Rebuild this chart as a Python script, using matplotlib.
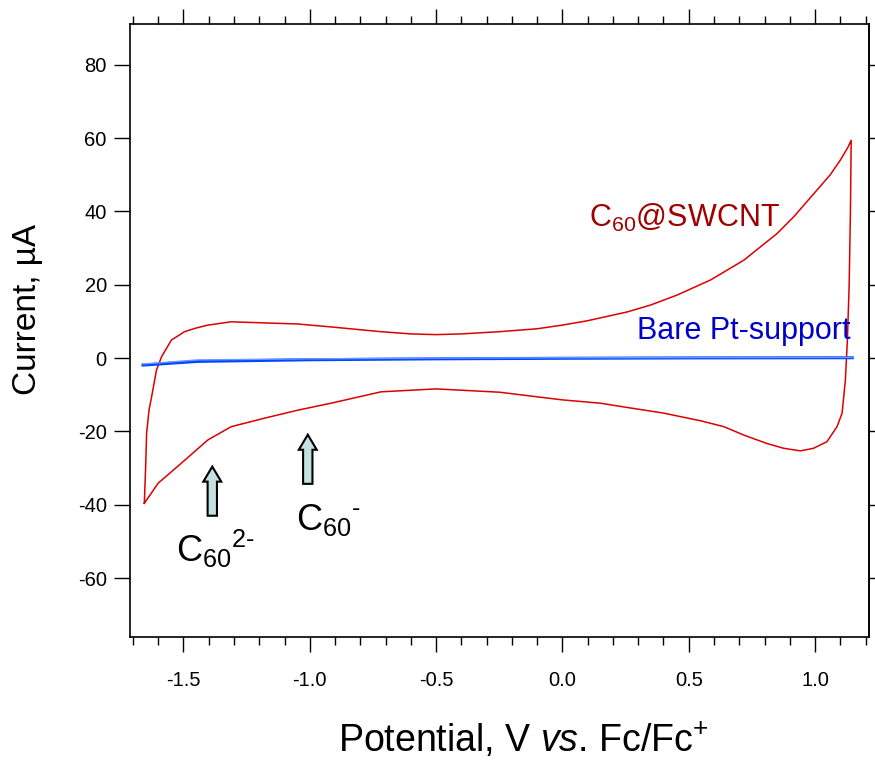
import matplotlib
matplotlib.use("Agg")
import matplotlib.pyplot as plt
from matplotlib.patches import FancyArrow
from matplotlib.ticker import MultipleLocator

plt.rcParams['font.family'] = ['Liberation Sans', 'DejaVu Sans']
plt.rcParams['mathtext.fontset'] = 'custom'
plt.rcParams['mathtext.rm'] = 'Liberation Sans'
plt.rcParams['mathtext.it'] = 'Liberation Sans:italic'

# C60@SWCNT cyclic voltammogram (V vs Fc/Fc+, uA), one closed loop
cv_v = [-1.655, -1.650, -1.646, -1.636, -1.626, -1.607, -1.587, -1.548, -1.496,
        -1.45, -1.403, -1.311, -1.18, -1.047, -0.916, -0.718, -0.6, -0.5, -0.4,
        -0.25, -0.1, 0.0, 0.1, 0.257, 0.35, 0.454, 0.586, 0.718, 0.85, 0.915,
        1.007, 1.06, 1.10, 1.13, 1.143,
        1.14, 1.135, 1.128, 1.12, 1.107, 1.087, 1.047, 0.994, 0.942, 0.876, 0.81,
        0.718, 0.639, 0.547, 0.4, 0.25, 0.15, 0.0, -0.25, -0.5, -0.718, -0.916,
        -1.047, -1.18, -1.311, -1.403, -1.509, -1.6, -1.655]
cv_i = [-39.6, -30, -20.5, -14, -10.5, -3.3, 0.35, 4.9, 7.2,
        8.2, 9.0, 9.9, 9.6, 9.3, 8.5, 7.2, 6.6, 6.4, 6.6,
        7.2, 8.0, 9.0, 10.2, 12.6, 14.5, 17.2, 21.3, 26.7, 34, 38.5,
        45.8, 50, 54, 57.5, 59.4,
        40, 20, 5, -6, -15, -18.7, -22.8, -24.6, -25.3, -24.6, -23.3,
        -21, -18.7, -17.1, -15, -13.4, -12.3, -11.4, -9.3, -8.4, -9.2, -12.3,
        -14.2, -16.4, -18.7, -22.3, -28.7, -34.1, -39.6]

# bare Pt support, forward and reverse scan
pt_v_fwd = [-1.66, -1.443, -1.0, -0.5, 0.0, 0.5, 1.147]
pt_i_fwd = [-1.9, -0.9, -0.45, -0.2, -0.05, 0.05, 0.1]
pt_v_rev = [1.147, 0.5, 0.0, -0.5, -1.0, -1.443, -1.66]
pt_i_rev = [0.2, 0.15, 0.1, 0.0, -0.2, -0.5, -1.6]

# reduction arrows: x, bottom, top
arrow_x = [-1.386, -1.008]
arrow_y0 = [-43.0, -34.3]
arrow_y1 = [-29.6, -20.9]

fig = plt.figure(figsize=(8.75, 7.6), dpi=100)
ax = fig.add_axes([0.1482, 0.1622, 0.8448, 0.8056])

ax.plot(cv_v, cv_i, color='#dd0000', lw=1.1)
ax.plot(pt_v_fwd, pt_i_fwd, color='#0048ff', lw=2.2)
ax.plot(pt_v_rev, pt_i_rev, color='#6a98ff', lw=1.0)

for x, y0, y1 in zip(arrow_x, arrow_y0, arrow_y1):
    ax.add_patch(FancyArrow(x, y0, 0, y1 - y0, width=0.037, head_width=0.071,
                            head_length=4.1, length_includes_head=True,
                            facecolor='#c4e0e0', edgecolor='black', lw=1.5,
                            zorder=3))

ax.text(0.104, 35.8, r'C$_{60}$@SWCNT', color='#a00000', fontsize=22)
ax.text(0.294, 5.1, 'Bare Pt-support', color='#0000c8', fontsize=22)
ax.text(-1.528, -55.5, r'C$_{60}$$^{2\text{-}}$', color='black', fontsize=26)
ax.text(-1.054, -46.9, r'C$_{60}$$^{\text{-}}$', color='black', fontsize=26)

ax.set_xlim(-1.713, 1.213)
ax.set_ylim(-76, 91)
ax.xaxis.set_major_locator(MultipleLocator(0.5))
ax.xaxis.set_minor_locator(MultipleLocator(0.1))
ax.yaxis.set_major_locator(MultipleLocator(20))
ax.set_xticks([-1.5, -1.0, -0.5, 0.0, 0.5, 1.0])
ax.set_xticklabels(['-1.5', '-1.0', '-0.5', '0.0', '0.5', '1.0'])
ax.set_yticks([-60, -40, -20, 0, 20, 40, 60, 80])
ax.set_yticklabels(['-60', '-40', '-20', '0', '20', '40', '60', '80'])

for s in ax.spines.values():
    s.set_linewidth(1.2)
ax.tick_params(axis='x', which='major', direction='out', length=10.5, width=1,
               top=True, labelsize=14.5, pad=14)
ax.tick_params(axis='x', which='minor', direction='out', length=5.5, width=1,
               top=True)
ax.tick_params(axis='y', which='major', direction='out', length=11.5, width=1,
               labelsize=14.5, pad=5)

sec = ax.secondary_yaxis('right')
sec.set_yticks([-60, -40, -20, 0, 20, 40, 60, 80])
sec.tick_params(direction='out', length=4.3, width=1, labelright=False)
sec.spines['right'].set_linewidth(1.2)

ax.set_xlabel(r'Potential, V $\mathit{vs}$. Fc/Fc$^{+}$', fontsize=27)
ax.xaxis.set_label_coords(0.532, -0.138)
ax.set_ylabel('Current, µA', fontsize=24)
ax.yaxis.set_label_coords(-0.117, 0.534)

fig.savefig('out.png', dpi=100)
